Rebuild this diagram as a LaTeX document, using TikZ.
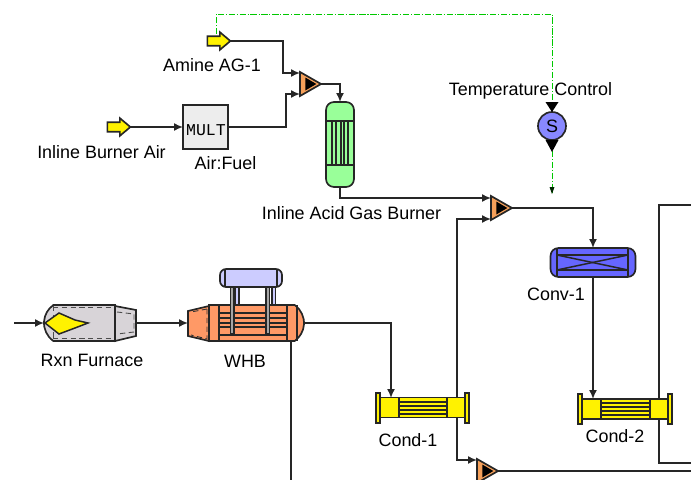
\documentclass[tikz,border=0pt]{standalone}
\usepackage{fontspec}
\setmainfont{Liberation Sans}
\setmonofont{Liberation Mono}
\usetikzlibrary{arrows.meta,shapes.geometric,shapes.arrows,shapes.misc}
\def\px{0.02cm}
\definecolor{furngray}{HTML}{D8D4D8}
\definecolor{whborange}{HTML}{FF9966}
\definecolor{mixorange}{HTML}{F5A05A}
\definecolor{drumblue}{HTML}{CCCCFF}
\definecolor{burngreen}{HTML}{99FF99}
\definecolor{sensblue}{HTML}{8888FF}
\definecolor{convblue}{HTML}{6666FF}
\definecolor{ctrlgreen}{HTML}{00C800}
\begin{document}
\begin{tikzpicture}
        [x=\px, y=-\px,
        unit/.style={draw=black!85, line width=0.95pt, inner sep=0pt, outer sep=0pt},
        feed/.style={unit, fill=yellow, single arrow, minimum height=23*\px,
            single arrow head extend=4*\px, single arrow tip angle=80},
        mixer/.style={unit, fill=mixorange, isosceles triangle, isosceles triangle apex angle=60,
            isosceles triangle stretches, minimum width=24*\px, minimum height=21*\px},
        mixcore/.style={fill=black, isosceles triangle, isosceles triangle apex angle=60, inner sep=0pt,
            isosceles triangle stretches, minimum width=13*\px, minimum height=11*\px},
        tube/.style={black!85, line width=0.85pt},
        stream/.style={black!85, line width=0.9pt, -{Latex[length=9*\px, width=8*\px]}},
        plain/.style={black!85, line width=0.9pt},
        control/.style={ctrlgreen, line width=0.45pt, dash pattern=on 3.6pt off 1pt on 0.6pt off 1pt},
        cond/.style={unit, fill=yellow, minimum height=20*\px},
        flange/.style={unit, fill=yellow, minimum width=4*\px, minimum height=30*\px},
        label/.style={font=\fontsize{10.2}{12}\selectfont, inner sep=0pt}]

        \clip (0,0) rectangle (691,480);

        % feeds and mixers
        \node[feed] (amine) at (216,41) {\rule{0pt}{0.16cm}};
        \node[feed] (air) at (116,127) {\rule{0pt}{0.16cm}};
        \node[unit, fill=black!7, minimum width=45*\px, minimum height=44*\px] (mult) at (205.5,127) {};
        \node[font=\ttfamily\fontsize{9.4}{11}\selectfont, inner sep=0pt] (multtext) at (206,130) {MULT};
        \node[mixer] (mixa) at (307,84) {};
        \node[mixcore] (mixacore) at (309,84) {};
        \node[mixer] (mixb) at (498,208) {};
        \node[mixcore] (mixbcore) at (500,208) {};
        \node[mixer] (mixc) at (484,471) {};
        \node[mixcore] (mixccore) at (486,471) {};

        % burner
        \node[unit, fill=burngreen, rounded corners=8*\px, minimum width=28*\px, minimum height=85*\px] (burner) at (340,144.5) {};
        \draw[tube] (326,121) -- (354,121);
        \draw[tube] (326,165) -- (354,165);
        \foreach \x in {332,336,341,344,348}
            \draw[tube] (\x,121) -- (\x,165);

        % converter
        \node[unit, fill=convblue, rounded corners=8*\px, minimum width=85*\px, minimum height=29*\px] (conv) at (593,262.5) {};
        \draw[tube] (557,248) -- (557,277);
        \draw[tube] (628,248) -- (628,277);
        \draw[tube] (557,255) -- (628,255);
        \draw[tube] (557,270) -- (628,270);
        \draw[tube] (557,255) -- (628,270);
        \draw[tube] (557,270) -- (628,255);

        % sensor
        \node[unit, fill=sensblue, circle, minimum size=28*\px, font=\fontsize{10.2}{12}\selectfont] (sens) at (552,126) {S};

        % furnace
        \draw[unit, fill=furngray] (115,306) -- (136,310) -- (136,336) -- (115,341) -- cycle;
        \node[unit, fill=furngray, rounded rectangle, rounded rectangle right arc=none, rounded rectangle arc length=110,
            minimum width=71*\px, minimum height=36*\px] (furn) at (79.5,323) {};
        \coordinate (furnout) at (136,323);
        \draw[black!70, densely dashed, line width=0.5pt] (53,306) -- (53,340);
        \draw[black!70, densely dashed, line width=0.5pt] (53,307.5) -- (113,307.5);
        \draw[black!70, densely dashed, line width=0.5pt] (53,338.5) -- (113,338.5);
        \draw[black!70, densely dashed, line width=0.5pt] (117,312) -- (134,314) -- (134,332) -- (117,334);
        \draw[tube, fill=yellow] (45,323) -- (59,313) -- (75,320) -- (88,323) -- (75,328) -- (59,334) -- cycle;

        % waste heat boiler
        \draw[unit, fill=whborange] (209,306) -- (188,311) -- (188,336) -- (209,341) -- cycle;
        \coordinate (whbin) at (188,323);
        \node[unit, fill=whborange, rounded rectangle, rounded rectangle left arc=none, rounded rectangle arc length=110,
            minimum width=95*\px, minimum height=36*\px] (whb) at (256.5,323) {};
        \draw[tube] (219,305) -- (219,341);
        \draw[tube] (287,305) -- (287,341);
        \draw[tube] (297,305) -- (297,341);
        \foreach \y in {313,318,323,327,335}
            \draw[tube] (219,\y) -- (287,\y);
        \draw[black!80, densely dashed, line width=0.5pt] (207,309) -- (207,339) -- (191,335);
        \draw[black!80, densely dashed, line width=0.5pt] (207,309) -- (191,312);
        \foreach \x in {235.5,272}
            \draw[unit, line width=0.7pt, fill=drumblue] (\x,285) rectangle (\x+3.5,305);
        \foreach \x in {230.5,266}
            \draw[unit, line width=0.7pt, fill=black!35] (\x,285) rectangle (\x+3.5,334);
        \node[unit, fill=drumblue, rounded corners=6*\px, minimum width=62*\px, minimum height=18*\px] (drum) at (251,278) {};
        \draw[tube] (225,269) -- (225,287);
        \draw[tube] (277,269) -- (277,287);

        % condensers
        \node[cond, minimum width=85*\px] (conda) at (422.5,407.5) {};
        \node[flange] (condaleft) at (378,408) {};
        \node[flange] (condaright) at (467,408) {};
        \draw[tube] (399,398) -- (399,417);
        \draw[tube] (447,398) -- (447,417);
        \foreach \y in {402,406,410,414}
            \draw[tube] (399,\y) -- (447,\y);
        \node[cond, minimum width=86*\px] (condb) at (625,409) {};
        \node[flange] (condbleft) at (580,409) {};
        \node[flange] (condbright) at (670,409) {};
        \draw[tube] (601,399) -- (601,419);
        \draw[tube] (650,399) -- (650,419);
        \foreach \y in {403,407,411,415}
            \draw[tube] (601,\y) -- (650,\y);

        % free ends of the streams
        \coordinate (rawin) at (14,323);
        \coordinate (mixaup) at (300,73);
        \coordinate (mixalow) at (300,94);
        \coordinate (mixbup) at (491,198);
        \coordinate (mixblow) at (491,219);
        \coordinate (mixcup) at (477,460);
        \coordinate (condain) at (391,398);
        \coordinate (condaout) at (457,398);
        \coordinate (condaoutb) at (457,417);
        \coordinate (condbin) at (593,399);
        \coordinate (condbtop) at (659,399);
        \coordinate (condbbot) at (659,419);
        \coordinate (whbdown) at (291,341);
        \coordinate (edgea) at (691,205);
        \coordinate (edgeb) at (691,463);
        \coordinate (edgec) at (691,471);
        \coordinate (edged) at (291,480);
        \coordinate (ctrlend) at (552,194);
        \coordinate (ctrlstart) at (216,34);

        % streams
        \draw[stream] (rawin) -- (furn.west);
        \draw[stream] (furnout) -- (whbin);
        \draw[stream] (air.tip) -- (mult.west);
        \draw[stream] (amine.tip) -- (283,41) -- (283,73) -- (mixaup);
        \draw[stream] (mult.east) -- (286,127) -- (286,94) -- (mixalow);
        \draw[stream] (mixa.apex) -| (burner.north);
        \draw[stream] (burner.south) |- (mixbup);
        \draw[stream] (condaout) |- (mixblow);
        \draw[stream] (mixb.apex) -| (conv.north);
        \draw[stream] (conv.south) -- (condbin);
        \draw[stream] (whb.east) -| (condain);
        \draw[stream] (condaoutb) |- (mixcup);
        \draw[plain] (mixc.apex) -- (edgec);
        \draw[plain] (whbdown) -- (edged);
        \draw[plain] (edgea) -| (condbtop);
        \draw[plain] (condbbot) |- (edgeb);

        % control signal
        \draw[control] (ctrlstart) -- (216,14) -- (552,14) -- (sens.north);
        \draw[control] (sens.south) -- (ctrlend);
        \fill[black] (545.5,102) -- (558.5,102) -- (552,112) -- cycle;
        \fill[black] (545.5,140) -- (558.5,140) -- (552,152) -- cycle;
        \fill[black!85!green] (549.5,187) -- (554.5,187) -- (552,194) -- cycle;

        % labels
        \node[label] (aminelabel) at (212,65.5) {Amine AG-1};
        \node[label] (airlabel) at (101.5,152) {Inline Burner Air};
        \node[label] (multlabel) at (225.5,163) {Air:Fuel};
        \node[label] (burnerlabel) at (351.5,213) {Inline Acid Gas Burner};
        \node[label] (senslabel) at (530.5,90.5) {Temperature Control};
        \node[label] (convlabel) at (556,294) {Conv-1};
        \node[label] (furnlabel) at (92,360) {Rxn Furnace};
        \node[label] (whblabel) at (245,361.5) {WHB};
        \node[label] (condalabel) at (408,440) {Cond-1};
        \node[label] (condblabel) at (615,436) {Cond-2};
\end{tikzpicture}
\end{document}
